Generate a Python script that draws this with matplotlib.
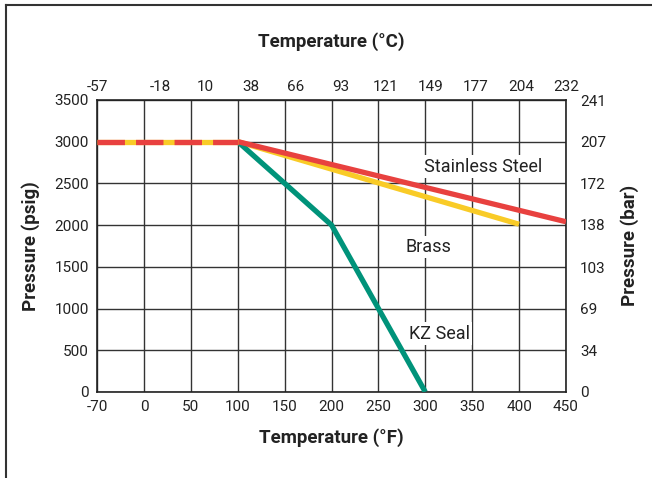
import matplotlib
matplotlib.use('Agg')
import matplotlib.pyplot as plt
from matplotlib.lines import Line2D
import numpy as np

plt.rcParams['font.family'] = ['Roboto', 'DejaVu Sans']

# Axis ticks (evenly spaced on the chart even though -70..0 is a wider step)
temp_f_ticks = [-70, 0, 50, 100, 150, 200, 250, 300, 350, 400, 450]
temp_c_labels = ['-57', '-18', '10', '38', '66', '93', '121', '149', '177', '204', '232']
psig_ticks = [0, 500, 1000, 1500, 2000, 2500, 3000, 3500]
bar_labels = [0, 34, 69, 103, 138, 172, 207, 241]
PSI_PER_BAR = 14.5038

# Pressure ratings vs temperature
flat_temp = [-70, 100]
flat_psig = [3000, 3000]
steel_temp = [100, 450]
steel_psig = [3000, 2040]
brass_temp = [100, 400]
brass_psig = [3000, 2010]
kz_temp = [100, 200, 300]
kz_psig = [3000, 2000, 0]

red = '#E8413F'
yellow = '#F9CB27'
green = '#00937A'
ink = '#222222'

tick_idx = np.arange(len(temp_f_ticks))


def fwd(x):
    return np.interp(x, temp_f_ticks, tick_idx)


def inv(x):
    return np.interp(x, tick_idx, temp_f_ticks)


fig = plt.figure(figsize=(6.52, 4.78), dpi=100)
ax = fig.add_axes([0.149, 0.180, 0.719, 0.611])
ax.set_xscale('function', functions=(fwd, inv))
ax.set_xlim(-70, 450)
ax.set_ylim(0, 3500)

ax.set_xticks(temp_f_ticks)
ax.set_xticklabels([str(t) for t in temp_f_ticks])
ax.set_yticks(psig_ticks)
ax.grid(True, color='#333333', linewidth=1.0)
ax.set_axisbelow(True)
for s in ax.spines.values():
    s.set_color(ink)
    s.set_linewidth(1.2)
ax.tick_params(length=0, labelsize=11, pad=6, labelcolor=ink)

lw = 3.8
ax.plot(brass_temp, brass_psig, color=yellow, lw=lw, solid_capstyle='butt', zorder=3)
ax.plot(kz_temp, kz_psig, color=green, lw=lw, solid_capstyle='butt', zorder=3)
ax.plot(steel_temp, steel_psig, color=red, lw=lw, solid_capstyle='butt', zorder=4)
ax.plot(flat_temp, flat_psig, color=yellow, lw=lw, solid_capstyle='butt', zorder=4)
ax.plot(flat_temp, flat_psig, color=red, lw=lw, dashes=(5.2, 2.1),
        dash_capstyle='butt', zorder=5)

box = dict(facecolor='white', edgecolor='none', pad=1.5)
ax.text(362, 2700, 'Stainless Steel', fontsize=13, color=ink,
        ha='center', va='center', bbox=box, zorder=6)
ax.text(303, 1740, 'Brass', fontsize=13, color=ink,
        ha='center', va='center', bbox=box, zorder=6)
ax.text(315, 700, 'KZ Seal', fontsize=13, color=ink,
        ha='center', va='center', bbox=box, zorder=6)

ax.set_xlabel('Temperature (°F)', fontsize=13.5, fontweight='bold', labelpad=10, color=ink)
ax.set_ylabel('Pressure (psig)', fontsize=13.5, fontweight='bold', labelpad=10, color=ink)

top = ax.secondary_xaxis('top')
top.set_xticks(temp_f_ticks)
top.set_xticklabels(temp_c_labels)
top.tick_params(length=0, labelsize=11, pad=4, labelcolor=ink)
top.spines['top'].set_visible(False)
top.set_xlabel('Temperature (°C)', fontsize=13.5, fontweight='bold', labelpad=24, color=ink)

right = ax.secondary_yaxis('right')
right.set_yticks([b * PSI_PER_BAR for b in bar_labels])
right.set_yticklabels([str(b) for b in bar_labels])
right.tick_params(length=0, labelsize=11, pad=10, labelcolor=ink)
right.spines['right'].set_visible(False)
right.set_ylabel('Pressure (bar)', fontsize=13.5, fontweight='bold', labelpad=10, color=ink)

# outer frame (top and left edges)
fig.add_artist(Line2D([0.009, 1.0], [0.990, 0.990], color='#333333', lw=1.5))
fig.add_artist(Line2D([0.009, 0.009], [0.0, 0.990], color='#333333', lw=1.5))

fig.savefig('out.png', dpi=100)
